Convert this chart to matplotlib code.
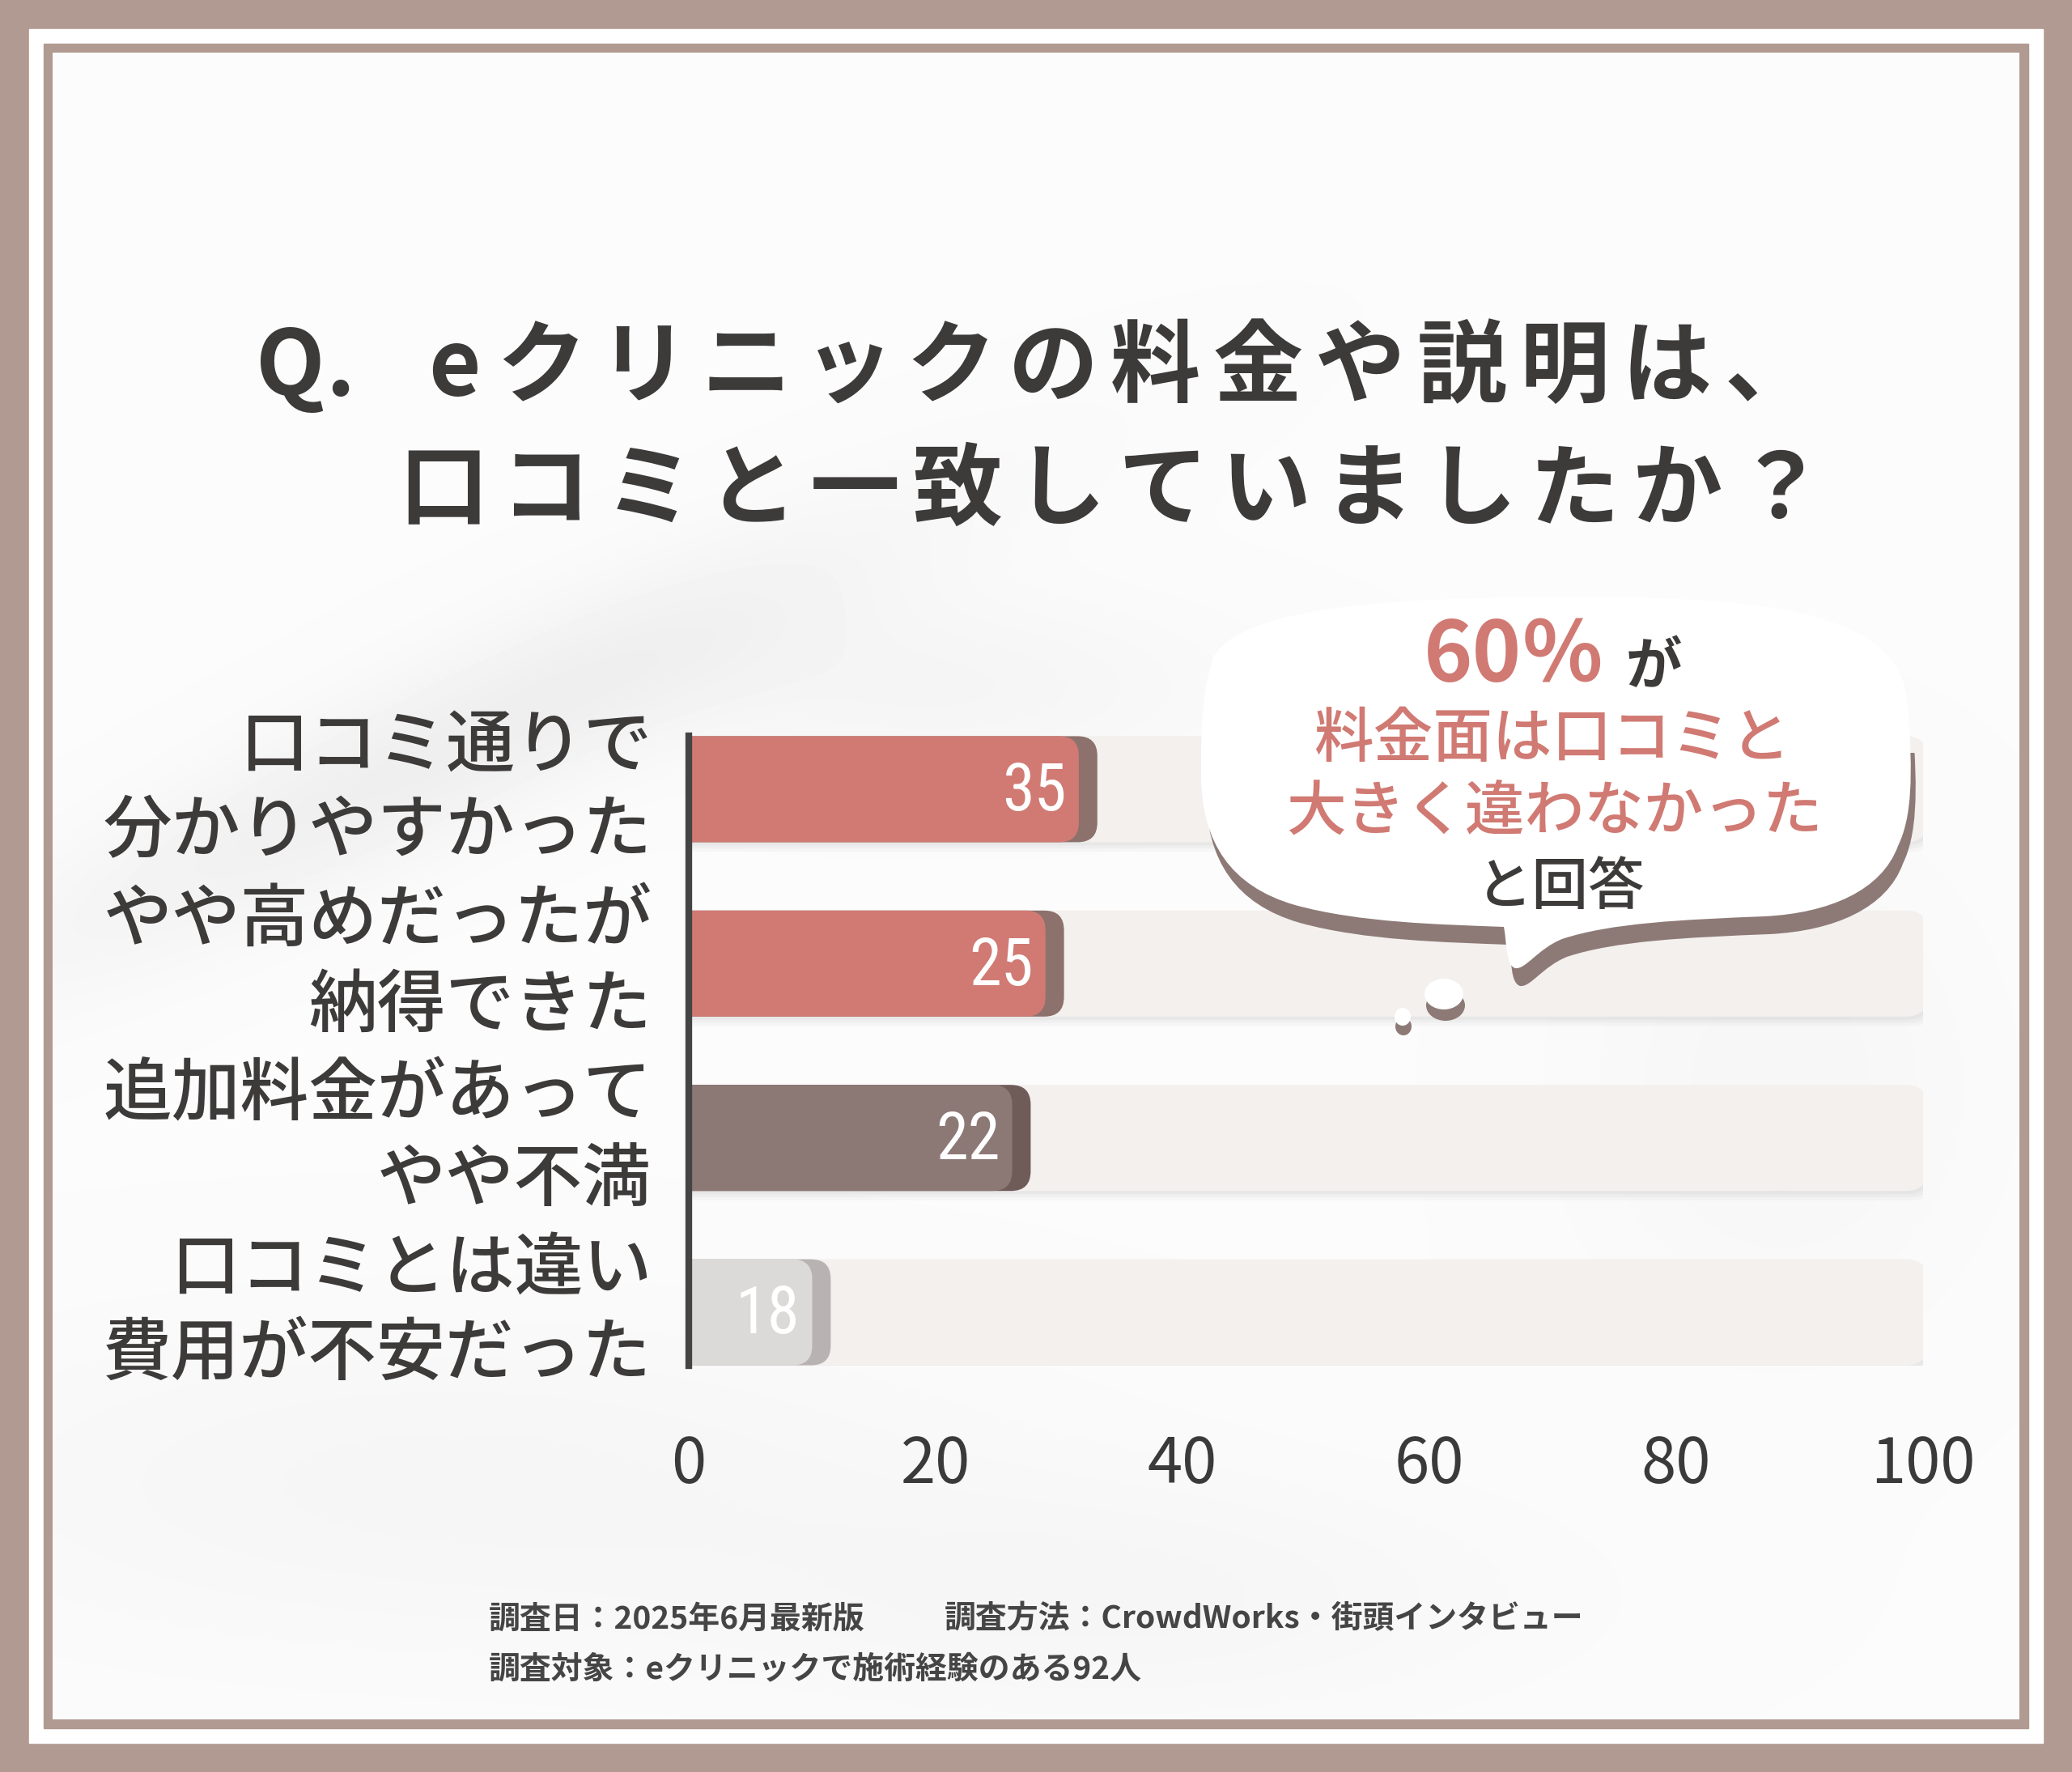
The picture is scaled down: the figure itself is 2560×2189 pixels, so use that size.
import numpy as np
import matplotlib.pyplot as plt
from matplotlib.patches import FancyBboxPatch, Rectangle, Ellipse, PathPatch
from matplotlib.path import Path
from matplotlib import font_manager

# canvas size in pixels
W, H = 2560, 2189
DPI = 100

# data
line1 = ["口コミ通りで", "やや高めだったが", "追加料金があって", "口コミとは違い"]
line2 = ["分かりやすかった", "納得できた", "やや不満", "費用が不安だった"]
values = [35, 25, 22, 18]                 # numbers printed on the bars
bar_ends = [33.1, 30.4, 27.7, 11.5]       # where each bar ends on the 0-100 axis
bar_colors = ["#d07a73", "#d07a73", "#8c7875", "#dcd9d9"]
edge_colors = ["#8c716c", "#8c716c", "#6f5b58", "#b8b2b2"]
xticks = [0, 20, 40, 60, 80, 100]

title_head = ["Q", ".", "e"]
title1 = "クリニックの料金や説明は、"
title2 = "口コミと一致していましたか？"
note_date = "調査日：2025年6月最新版"
note_method = "調査方法：CrowdWorks・街頭インタビュー"
note_target = "調査対象：eクリニックで施術経験のある92人"

SALMON = "#d07a73"
DARK = "#3d3a3a"
FRAME = "#b19a91"

available = {f.name for f in font_manager.fontManager.ttflist}


def pick(*names):
    for n in names:
        if n in available:
            return n
    return "DejaVu Sans"


JP = ["Noto Sans CJK JP", "DejaVu Sans"]
NARROW = pick("Liberation Sans Narrow", "Roboto Condensed", "DejaVu Sans")
plt.rcParams["font.family"] = JP


def spaced(axis, x0, y, text, pitch, **kw):
    # letter-spaced line: one glyph per cell
    for k, ch in enumerate(text):
        axis.text(x0 + k * pitch, y, ch, ha="center", va="baseline", **kw)


fig = plt.figure(figsize=(W / DPI, H / DPI), dpi=DPI)
fig.patch.set_facecolor(FRAME)

# full-figure layer in pixel units for the frame, title and notes
bg = fig.add_axes([0, 0, 1, 1])
bg.set_xlim(0, W)
bg.set_ylim(H, 0)
bg.axis("off")

bg.add_patch(Rectangle((36, 36), W - 72, H - 72, color="white", zorder=0))
bg.add_patch(Rectangle((54, 54), W - 108, H - 108, color=FRAME, zorder=0))

# soft grey marbling of the paper
yy, xx = np.mgrid[0:1:300j, 0:1:350j]
tex = np.zeros_like(xx)
d = (yy - 0.50) + 0.55 * (xx - 0.05)
tex += 0.05 * np.exp(-(d ** 2) / 0.003) * np.exp(-((xx - 0.2) ** 2) / 0.05)
tex += 0.022 * np.exp(-((xx - 0.2) ** 2) / 0.08 - ((yy - 0.86) ** 2) / 0.01)
tex += 0.02 * np.exp(-((xx - 0.55) ** 2) / 0.04 - ((yy - 0.93) ** 2) / 0.005)
tex += 0.025 * np.exp(-((xx - 0.45) ** 2) / 0.02 - ((yy - 0.38) ** 2) / 0.003)
tex += 0.02 * np.exp(-((xx - 0.88) ** 2) / 0.01 - ((yy - 0.62) ** 2) / 0.02)
tex += 0.015
bg.imshow(1 - tex, cmap="gray", vmin=0, vmax=1, extent=(65, W - 65, H - 65, 65),
          aspect="auto", zorder=0.5, interpolation="bilinear")

# title, drawn with the wide tracking of the original
tkw = dict(fontsize=80, fontweight="bold", color=DARK, zorder=3)
for x, ch in zip([359, 420, 561], title_head):
    bg.text(x, 488, ch, ha="center", va="baseline", **tkw)
spaced(bg, 669, 488, title1, 126.4, **tkw)
spaced(bg, 548, 640, title2, 127.0, **tkw)

# survey notes
nkw = dict(fontsize=28, fontweight="bold", color="#454545", ha="left", va="center", zorder=3)
bg.text(604, 2000, note_date, **nkw)
bg.text(1167, 2000, note_method, **nkw)
bg.text(604, 2062, note_target, **nkw)

# bar chart
ax = fig.add_axes([851 / W, 1 - 1687 / H, (2376 - 851) / W, (1687 - 909) / H])
ax.set_xlim(0, 100)
ax.set_ylim(3.306, -0.306)
ax.patch.set_alpha(0)
for s in ["top", "right", "bottom"]:
    ax.spines[s].set_visible(False)
ax.spines["left"].set_color("#444444")
ax.spines["left"].set_linewidth(6)
ax.spines["left"].set_zorder(6)
ax.set_yticks([])
ax.set_xticks(xticks, [str(t) for t in xticks], fontsize=56, color="#3a3a3a", family=JP)
ax.tick_params(axis="x", length=0, pad=60)

px_x = 1525 / 100
px_y = 778 / 3.612
asp = px_x / px_y
bh = 131 / px_y

for i in range(len(values)):
    y0 = i - bh / 2
    # track shadow
    for k, a in zip([1, 2, 3], [0.07, 0.06, 0.05]):
        ax.add_patch(FancyBboxPatch((-3 + 0.15 * k, y0 + 0.018 * k), 103.4, bh,
                                    boxstyle="round,pad=0,rounding_size=1.8",
                                    mutation_aspect=asp, fc="#8a8a8a", ec="none",
                                    alpha=a, zorder=1))
    ax.add_patch(FancyBboxPatch((-3, y0), 103.4, bh,
                                boxstyle="round,pad=0,rounding_size=1.8",
                                mutation_aspect=asp, fc="#f3f0ee", ec="none", zorder=2))
    L = bar_ends[i]
    ax.add_patch(FancyBboxPatch((-3, y0), L + 3, bh,
                                boxstyle="round,pad=0,rounding_size=1.6",
                                mutation_aspect=asp, fc=edge_colors[i], ec="none", zorder=3))
    ax.add_patch(FancyBboxPatch((-3, y0), L + 3 - 1.5, bh,
                                boxstyle="round,pad=0,rounding_size=1.6",
                                mutation_aspect=asp, fc=bar_colors[i], ec="none", zorder=4))
    ax.text(L - 2.5, i + 0.02, str(values[i]), ha="right", va="center",
            fontsize=58, color="white", family=[NARROW, "DejaVu Sans"], zorder=5)
    ax.text(-3.0, i - 0.245, line1[i], ha="right", va="center", fontsize=61,
            color=DARK, fontweight="medium", clip_on=False, zorder=5)
    ax.text(-3.0, i + 0.245, line2[i], ha="right", va="center", fontsize=61,
            color=DARK, fontweight="medium", clip_on=False, zorder=5)

# speech bubble on top of the chart
ov = fig.add_axes([0, 0, 1, 1])
ov.set_xlim(0, W)
ov.set_ylim(H, 0)
ov.axis("off")
ov.patch.set_alpha(0)

verts = [
    (1925, 738),
    (2200, 735), (2350, 760), (2357, 870),
    (2364, 960), (2362, 1010), (2345, 1045),
    (2325, 1100), (2260, 1128), (2180, 1132),
    (2080, 1136), (1990, 1140), (1930, 1160),
    (1900, 1172), (1885, 1198), (1872, 1196),
    (1860, 1192), (1862, 1165), (1858, 1145),
    (1780, 1142), (1680, 1140), (1600, 1118),
    (1520, 1095), (1485, 1040), (1484, 960),
    (1483, 890), (1488, 840), (1500, 810),
    (1540, 745), (1750, 738), (1925, 738),
    (1925, 738),
]
codes = [Path.MOVETO] + [Path.CURVE4] * 30 + [Path.CLOSEPOLY]
bubble = Path(verts, codes)
shadow = Path([(x + 6, y + 22) for x, y in verts], codes)
sh = PathPatch(shadow, fc="#8d7a76", ec="none", zorder=1)
ov.add_patch(sh)
clip = Rectangle((1400, 930), 1100, 400, transform=ov.transData)
sh.set_clip_path(clip)
ov.add_patch(PathPatch(bubble, fc="white", ec="none", zorder=2))

ov.add_patch(Ellipse((1786, 1242), 48, 38, fc="#8d7a76", ec="none", zorder=1))
ov.add_patch(Ellipse((1784, 1228), 48, 38, fc="white", ec="none", zorder=2))
ov.add_patch(Ellipse((1734, 1268), 20, 22, fc="#8d7a76", ec="none", zorder=1))
ov.add_patch(Ellipse((1733, 1256), 20, 22, fc="white", ec="none", zorder=2))

ov.text(1871, 812, "60％", fontsize=74, fontweight="bold", color=SALMON,
        ha="center", va="center", zorder=3)
ov.text(2043, 825, "が", fontsize=50, fontweight="bold", color=DARK,
        ha="center", va="center", zorder=3)
ov.text(1918, 914, "料金面は口コミと", fontsize=53, fontweight="medium", color=SALMON,
        ha="center", va="center", zorder=3)
ov.text(1920, 1004, "大きく違わなかった", fontsize=53, fontweight="medium", color=SALMON,
        ha="center", va="center", zorder=3)
ov.text(1928, 1097, "と回答", fontsize=50, fontweight="medium", color=DARK,
        ha="center", va="center", zorder=3)

fig.savefig("out.png", dpi=DPI)
